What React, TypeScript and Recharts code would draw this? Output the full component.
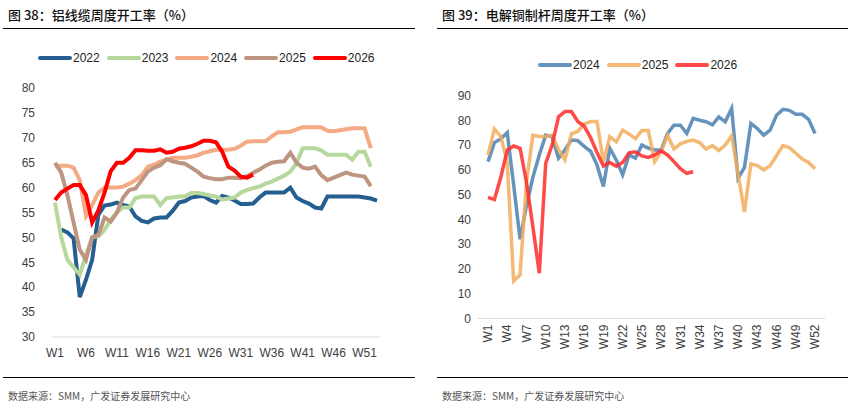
import React from 'react'
import { LineChart, Line, XAxis, YAxis } from 'recharts'

// 图38 铝线缆周度开工率 (%), W1-W53
const cableWeeks = Array.from({ length: 53 }, (_, i) => `W${i + 1}`)
const cable2022 = [null, 51.6, 51, 49.8, 38, 41.5, 45.5, 54.5, 56.4, 56.6, 57, 56.5, 56.2, 54.2, 53.3, 53, 53.8, 54, 54, 55.3, 57, 57.3, 58, 58.2, 58.3, 57.5, 57, 58.3, 58, 57.4, 56.7, 56.7, 56.8, 58, 59, 59, 59, 59, 60, 58, 57.3, 56.8, 56, 55.8, 58.2, 58.2, 58.2, 58.2, 58.2, 58.2, 58, 57.8, 57.4]
const cable2023 = [57, 50, 45.5, 44, 42.5, 46.5, 50, 50.2, 51.5, 53.5, 55, 56, 56, 57.9, 58.2, 58.2, 58.2, 56.5, 57.9, 58, 58.2, 58.2, 58.9, 58.9, 58.7, 58.4, 58.2, 57.6, 57.8, 58, 59, 59.5, 59.9, 60.2, 60.8, 61.2, 61.8, 62.4, 63.2, 64.9, 67.9, 67.9, 67.9, 67.5, 66.6, 66.6, 66.6, 66.6, 65.6, 67.2, 67.2, 64.2]
const cable2024 = [64.4, 64.4, 64.4, 64, 61.5, 54.3, 56.5, 59, 60, 60, 60, 60.2, 60.8, 61.5, 62.5, 64.2, 64.6, 65.2, 65.6, 66, 66, 66, 66.2, 66.5, 67, 67.3, 67.6, 67.6, 67.6, 67.8, 68.4, 69.2, 69.3, 69.3, 69.3, 70.3, 71.1, 71.1, 71.2, 71.7, 72.1, 72.1, 72.1, 72.1, 71.4, 71.3, 71.5, 71.7, 71.9, 71.9, 71.9, 67.9]
const cable2025 = [65, 63, 58.5, 53, 47.5, 45.5, 50, 50.5, 54, 53.2, 55, 58, 59.5, 59.8, 61.5, 63.2, 64, 64.5, 65.7, 65.3, 65, 64.8, 64, 63.2, 62.2, 61.9, 61.7, 61.7, 62, 62, 61.9, 62.3, 63, 63.6, 64.4, 65, 65.2, 65.3, 67, 65, 64, 63.8, 64.2, 62.5, 61.5, 62, 62.5, 63, 62.6, 62.4, 62.2, 60.3]
const cable2026 = [57.5, 59, 59.8, 60.5, 60.5, 58.5, 53, 55.4, 59, 63.3, 65, 65, 66, 67.5, 67.5, 67.4, 67.4, 67.7, 67, 67.2, 67.8, 68, 68.3, 68.8, 69.4, 69.4, 69.1, 67.2, 64.2, 63.4, 62.2, 62, 62.6]
const cableTicks = [30, 35, 40, 45, 50, 55, 60, 65, 70, 75, 80]

// 图39 电解铜制杆周度开工率 (%), W1-W52
const rodWeeks = Array.from({ length: 52 }, (_, i) => `W${i + 1}`)
const rod2024 = [63.3, 71, 72.5, 75, 54, 32, 45.5, 57, 66, 74, 73.4, 64.7, 68, 72, 71.8, 69.5, 67.5, 62, 53.3, 68.7, 64, 58, 66, 64.7, 70, 68.8, 68, 68, 74.7, 78, 78, 74.7, 80.8, 80, 79.4, 78.2, 81.4, 79.4, 84.8, 56.6, 61, 78.7, 76.7, 74, 76, 82, 84.4, 84, 82.4, 82.4, 80.4, 74.7]
const rod2025 = [66, 76.5, 73.4, 63, 15.2, 17.6, 55, 74, 73.5, 73.5, 74, 68.2, 64, 74.5, 75.5, 78.5, 79.5, 79.5, 63, 73.4, 71.3, 76, 74.5, 72.6, 75.9, 75.9, 63.3, 67.3, 74, 68.4, 70.5, 71.5, 72, 71, 68.4, 69.8, 67.8, 70, 73.8, 58.3, 43, 62.4, 61.7, 60, 61.7, 65.7, 69.8, 69, 66.7, 64.4, 63, 60.4]
const rod2026 = [48.9, 48, 57, 68, 69.6, 68.7, 55, 37, 18.3, 62.6, 70, 81.4, 83.5, 83.5, 79.5, 77.6, 73, 67, 61.5, 63, 61.5, 63, 66.9, 67.3, 65.6, 65, 66, 67.7, 66, 63.3, 60.5, 58.6, 59.2]
const rodTicks = [0, 10, 20, 30, 40, 50, 60, 70, 80, 90]

const cableData = cableWeeks.map((w, i) => ({
  week: w,
  y2022: cable2022[i] ?? null,
  y2023: cable2023[i] ?? null,
  y2024: cable2024[i] ?? null,
  y2025: cable2025[i] ?? null,
  y2026: cable2026[i] ?? null,
}))

const rodData = rodWeeks.map((w, i) => ({
  week: w,
  y2024: rod2024[i] ?? null,
  y2025: rod2025[i] ?? null,
  y2026: rod2026[i] ?? null,
}))

const cableSeries = [
  { key: 'y2022', name: '2022', color: '#255e91' },
  { key: 'y2023', name: '2023', color: '#b6d89c' },
  { key: 'y2024', name: '2024', color: '#f4aa84' },
  { key: 'y2025', name: '2025', color: '#bd9580' },
  { key: 'y2026', name: '2026', color: '#ff0000' },
]

const rodSeries = [
  { key: 'y2024', name: '2024', color: '#4a80b0' },
  { key: 'y2025', name: '2025', color: '#f2ad5c' },
  { key: 'y2026', name: '2026', color: '#ff2a2a' },
]

const cjk = '"Noto Sans CJK SC", sans-serif'
const latin = '"Liberation Sans", Arial, sans-serif'
const tickStyle = { fontSize: 12, fill: '#404040', fontFamily: latin }

function Legend({ items, left, top, opacity = 1 }) {
  return (
    <div style={{ position: 'absolute', left, top, display: 'flex', alignItems: 'center', fontFamily: latin, fontSize: 12, color: '#222' }}>
      {items.map((s) => (
        <div key={s.key} style={{ display: 'flex', alignItems: 'center', marginRight: 7 }}>
          <div style={{ width: 34, height: 4, borderRadius: 2, background: s.color, opacity, marginRight: 1 }} />
          <span>{s.name}</span>
        </div>
      ))}
    </div>
  )
}

function RotTick(props) {
  const { x, y, payload } = props
  return (
    <text x={x} y={y} transform={`rotate(-90 ${x} ${y})`} textAnchor="end" dy="0.35em" {...tickStyle}>
      {payload.value}
    </text>
  )
}

function Header({ left, text }) {
  return (
    <>
      <div style={{ position: 'absolute', left: left + 8, top: 5, fontFamily: cjk, fontSize: 13, fontWeight: 500, color: '#111', whiteSpace: 'nowrap' }}>
        {text}
      </div>
      <div style={{ position: 'absolute', left: left + 3, top: 28, width: 412, height: 1, background: '#000' }} />
      <div style={{ position: 'absolute', left: left + 3, top: 377, width: 412, height: 1, background: '#000' }} />
      <div style={{ position: 'absolute', left: left + 8, top: 388, fontFamily: cjk, fontSize: 10, color: '#555', whiteSpace: 'nowrap' }}>
        数据来源：SMM，广发证券发展研究中心
      </div>
    </>
  )
}

export default function App() {
  return (
    <div style={{ position: 'absolute', left: 0, top: 0, width: 848, height: 419, background: '#fff', overflow: 'hidden' }}>
      <Header left={0} text="图 38：铝线缆周度开工率（%）" />
      <Header left={434} text="图 39：电解铜制杆周度开工率（%）" />

      <Legend items={cableSeries} left={38} top={51} />
      <div style={{ position: 'absolute', left: 0, top: 0 }}>
        <LineChart width={424} height={370} data={cableData} margin={{ top: 88, right: 44, bottom: 3, left: 0 }}>
          <XAxis
            dataKey="week"
            interval={4}
            tickLine={false}
            tickSize={0}
            tickMargin={11}
            height={30}
            padding={{ left: 3, right: 3 }}
            axisLine={{ stroke: '#d9d9d9' }}
            tick={tickStyle}
          />
          <YAxis
            domain={[30, 80]}
            ticks={cableTicks}
            interval={0}
            width={52}
            axisLine={false}
            tickLine={false}
            tickSize={0}
            tickMargin={17}
            tick={tickStyle}
          />
          {cableSeries.map((s) => (
            <Line
              key={s.key}
              dataKey={s.key}
              name={s.name}
              stroke={s.color}
              strokeWidth={4}
              dot={false}
              type="linear"
              isAnimationActive={false}
            />
          ))}
        </LineChart>
      </div>

      <Legend items={rodSeries} left={538} top={58} opacity={0.85} />
      <div style={{ position: 'absolute', left: 424, top: 0 }}>
        <LineChart width={424} height={370} data={rodData} margin={{ top: 95.5, right: 23, bottom: 3.5, left: 0 }}>
          <XAxis
            dataKey="week"
            interval={2}
            tickLine={false}
            tickSize={0}
            tickMargin={6}
            height={48}
            padding={{ left: 10, right: 10 }}
            axisLine={{ stroke: '#d9d9d9' }}
            tick={<RotTick />}
          />
          <YAxis
            domain={[0, 90]}
            ticks={rodTicks}
            interval={0}
            width={54}
            axisLine={false}
            tickLine={false}
            tickSize={0}
            tickMargin={7}
            tick={tickStyle}
          />
          {rodSeries.map((s) => (
            <Line
              key={s.key}
              dataKey={s.key}
              name={s.name}
              stroke={s.color}
              strokeOpacity={0.85}
              strokeWidth={3.5}
              dot={false}
              type="linear"
              isAnimationActive={false}
            />
          ))}
        </LineChart>
      </div>
    </div>
  )
}
